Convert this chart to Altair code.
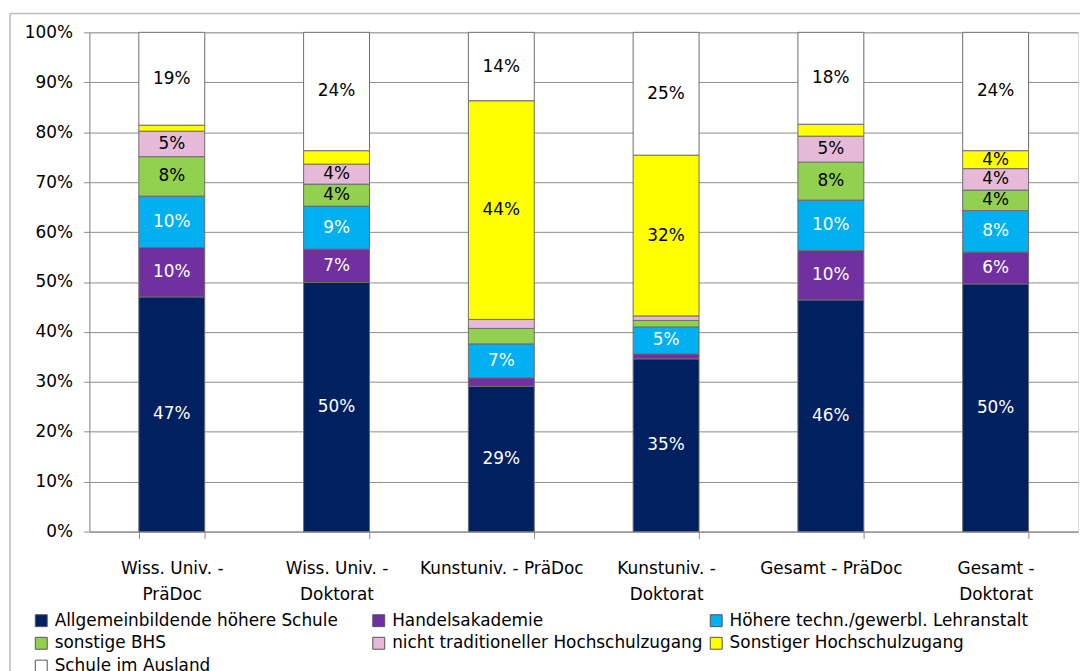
import altair as alt
import pandas as pd

categories = ["Wiss. Univ. - PräDoc", "Wiss. Univ. - Doktorat", "Kunstuniv. - PräDoc",
              "Kunstuniv. - Doktorat", "Gesamt - PräDoc", "Gesamt - Doktorat"]

series = ["Allgemeinbildende höhere Schule", "Handelsakademie", "Höhere techn./gewerbl. Lehranstalt",
          "sonstige BHS", "nicht traditioneller Hochschulzugang", "Sonstiger Hochschulzugang",
          "Schule im Ausland"]

colors = ["#002060", "#7030A0", "#00B0F0", "#92D050", "#E6B9D8", "#FFFF00", "#FFFFFF"]
label_colors = ["#FFFFFF", "#FFFFFF", "#FFFFFF", "#000000", "#000000", "#000000", "#000000"]

ahs = [47.0, 49.9, 29.1, 34.6, 46.4, 49.6]
hak = [9.9, 6.7, 1.7, 1.0, 9.9, 6.4]
htl = [10.3, 8.6, 6.8, 5.4, 10.1, 8.3]
bhs = [7.9, 4.4, 3.1, 1.3, 7.6, 4.1]
ntz = [5.1, 4.0, 1.8, 0.9, 5.2, 4.3]
shz = [1.2, 2.7, 43.8, 32.2, 2.4, 3.6]
ausland = [18.6, 23.7, 13.7, 24.6, 18.4, 23.7]

all_values = [ahs, hak, htl, bhs, ntz, shz, ausland]

rows = []
for si, (s, vals) in enumerate(zip(series, all_values)):
    for c, v in zip(categories, vals):
        rows.append({"category": c, "series": s, "value": v, "order": si,
                     "tcolor": label_colors[si]})
df = pd.DataFrame(rows)

FONT = "DejaVu Sans"
FS = 17

base = alt.Chart(df).transform_stack(
    stack="value", groupby=["category"], sort=[alt.SortField("order", order="ascending")],
    as_=["y0", "y1"]
).transform_calculate(mid="(datum.y0 + datum.y1) / 2",
                      label="format(datum.value, '.0f') + '%'")

xenc = alt.X("category:N", sort=categories, title=None,
             scale=alt.Scale(paddingInner=0.6, paddingOuter=0.3),
             axis=alt.Axis(labelAngle=0, tickBand="extent", tickSize=7,
                           domainColor="#8c8c8c", tickColor="#8c8c8c",
                           labelFontSize=FS, labelColor="#000000", labelPadding=22,
                           labelLineHeight=26, labelFont=FONT, labelLimit=0,
                           labelExpr="(datum.label == 'Kunstuniv. - PräDoc' || datum.label == 'Gesamt - PräDoc') ? datum.label : split(replace(datum.label, ' - ', ' -|'), '|')"))

bars = base.mark_bar(stroke="#6d6d6d", strokeWidth=1).encode(
    x=xenc,
    y=alt.Y("y0:Q", title=None, scale=alt.Scale(domain=[0, 100], nice=False),
            axis=alt.Axis(values=list(range(0, 101, 10)), labelExpr="datum.value + '%'",
                          grid=True, gridColor="#8c8c8c", gridWidth=1,
                          domainColor="#8c8c8c", tickColor="#8c8c8c", tickSize=6,
                          labelFontSize=FS, labelColor="#000000", labelPadding=11,
                          labelFont=FONT)),
    y2="y1:Q",
    color=alt.Color("series:N", sort=series,
                    scale=alt.Scale(domain=series, range=colors),
                    legend=alt.Legend(title=None, orient="none", legendX=-57, legendY=584,
                                      direction="horizontal", gridAlign="all",
                                      columns=3, columnPadding=5, rowPadding=5,
                                      symbolType="square", symbolSize=144,
                                      symbolStrokeColor="#555555", symbolStrokeWidth=1,
                                      labelFontSize=FS, labelFont=FONT, labelLimit=0,
                                      labelOffset=5, labelColor="#000000")),
)

texts = base.transform_filter("datum.value >= 3.5").mark_text(
    fontSize=FS, font=FONT, baseline="middle", align="center"
).encode(
    x=alt.X("category:N", sort=categories),
    y=alt.Y("mid:Q"),
    text="label:N",
    color=alt.Color("tcolor:N", scale=None),
)

frame_data = alt.Chart(pd.DataFrame({"k": [0]}))
frame_left = frame_data.mark_rule(color="#bdbdbd", strokeWidth=1.5).encode(
    x=alt.value(-80), y=alt.value(-19), y2=alt.value(700))
frame_top = frame_data.mark_rule(color="#bdbdbd", strokeWidth=1.5).encode(
    x=alt.value(-80), x2=alt.value(1100), y=alt.value(-19))

chart = alt.layer(bars, texts, frame_left, frame_top).properties(
    width=996, height=503,
    autosize=alt.AutoSizeParams(type="none"),
    padding={"left": 82, "top": 22, "right": 2, "bottom": 150},
).configure_view(stroke=None).configure(font=FONT)

chart.save("out.html", embed_options={"renderer": "svg", "actions": False})
